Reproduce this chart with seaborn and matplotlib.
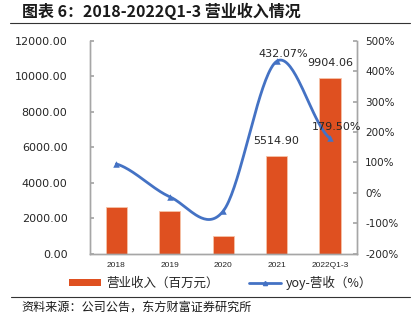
import numpy as np
import pandas as pd
import matplotlib
matplotlib.use("Agg")
import matplotlib.pyplot as plt
import seaborn as sns
from matplotlib.lines import Line2D
from matplotlib.patches import Patch

# ---- data ----
categories = ["2018", "2019", "2020", "2021", "2022Q1-3"]
revenue = [2630, 2405, 1015, 5514.90, 9904.06]          # 营业收入（百万元）
yoy = [95, -13, -60, 432.07, 179.50]                      # yoy-营收（%）
rev_labels = ["", "", "", "5514.90", "9904.06"]
yoy_labels = ["", "", "", "432.07%", "179.50%"]
left_ticks = [0, 2000, 4000, 6000, 8000, 10000, 12000]
right_ticks = [-200, -100, 0, 100, 200, 300, 400, 500]

sns.set_theme(style="white")
plt.rcParams['font.family'] = ['DejaVu Sans', 'Noto Sans CJK SC']
CJK = ['Noto Sans CJK SC', 'DejaVu Sans']

bar_color = "#DF5020"
line_color = "#4472C4"
spine_color = "#A6A6A6"
text_color = "#262626"

fig = plt.figure(figsize=(4.16, 3.23), dpi=100)
ax = fig.add_axes([0.2156, 0.2146, 0.8575 - 0.2156, 0.874 - 0.2146])

df = pd.DataFrame({"cat": categories, "rev": revenue})
sns.barplot(data=df, x="cat", y="rev", ax=ax, color=bar_color, width=0.4,
            saturation=1, edgecolor="#F6C3A8", linewidth=0.6)
ax.set_xlim(-0.5, len(categories) - 0.5)
ax.set_ylim(0, 12000)
ax.set_yticks(left_ticks)
ax.set_yticklabels([f"{v:.2f}" for v in left_ticks], fontsize=8, color=text_color)
ax.set_xlabel("")
ax.set_ylabel("")
ax.tick_params(axis="x", length=0, labelsize=6, pad=6, colors=text_color)
ax.set_xticks(np.arange(len(categories) - 1) + 0.5, minor=True)
ax.tick_params(axis="x", which="minor", length=3, direction="in", color=spine_color)
ax.tick_params(axis="y", length=3, direction="in", color=spine_color, pad=16)
for lbl in ax.get_xticklabels():
    lbl.set_fontfamily(['Liberation Sans'])

for i, (v, t) in enumerate(zip(revenue, rev_labels)):
    if t:
        ax.annotate(t, (i, v), xytext=(0, 15), textcoords="offset pixels",
                    ha="center", va="center", fontsize=8, color=text_color)

ax2 = ax.twinx()
ax2.set_ylim(-200, 500)
ax2.set_yticks(right_ticks)
ax2.set_yticklabels([f"{v}%" for v in right_ticks], fontsize=7.5, color=text_color)
ax2.tick_params(axis="y", length=3, direction="in", color=spine_color, pad=6)

# Smooth curve (Catmull-Rom through the data points, Excel style)
xs = np.arange(len(yoy), dtype=float)
ys = np.array(yoy, dtype=float)
px = np.concatenate([[2 * xs[0] - xs[1]], xs, [2 * xs[-1] - xs[-2]]])
py = np.concatenate([[ys[0]], ys, [ys[-1]]])
cx, cy = [], []
t = np.linspace(0, 1, 40)
for k in range(1, len(px) - 2):
    p0 = np.array([px[k], py[k]])
    p3 = np.array([px[k + 1], py[k + 1]])
    c1 = p0 + (np.array([px[k + 1], py[k + 1]]) - np.array([px[k - 1], py[k - 1]])) / 6
    c2 = p3 - (np.array([px[k + 2], py[k + 2]]) - np.array([px[k], py[k]])) / 6
    b = ((1 - t) ** 3)[:, None] * p0 + (3 * (1 - t) ** 2 * t)[:, None] * c1 + \
        (3 * (1 - t) * t ** 2)[:, None] * c2 + (t ** 3)[:, None] * p3
    cx.extend(b[:, 0]); cy.extend(b[:, 1])
ax2.plot(cx, cy, color=line_color, lw=2, solid_capstyle="round")
sns.scatterplot(x=xs, y=ys, ax=ax2, marker="^", s=22, color=line_color,
                edgecolor=line_color, linewidth=0, zorder=5, legend=False)

for i, (v, tl) in enumerate(zip(yoy, yoy_labels)):
    if tl:
        ax2.annotate(tl, (i, v), xytext=(7, 7 if i == 3 else 11), textcoords="offset pixels",
                     ha="center", va="center", fontsize=8, color=text_color)

for a in (ax, ax2):
    a.spines["top"].set_visible(False)
    for s in ("left", "right", "bottom"):
        a.spines[s].set_color(spine_color)
        a.spines[s].set_linewidth(1)
    a.grid(False)

# Title and decorations
fig.text(22 / 416, 1 - 11 / 323, "图表 6：2018-2022Q1-3 营业收入情况", fontsize=11.5,
         fontweight="bold", family=CJK, ha="left", va="center", color="#1a1a1a")
fig.add_artist(Line2D([10 / 416, 410 / 416], [1 - 22.5 / 323] * 2, color="#333333", lw=0.8))
fig.add_artist(Line2D([11 / 416, 410 / 416], [1 - 297 / 323] * 2, color="#333333", lw=0.8))
fig.text(21 / 416, 1 - 307 / 323, "资料来源：公司公告，东方财富证券研究所", fontsize=8.7,
         family=CJK, ha="left", va="center", color="#1a1a1a")

handles = [Patch(facecolor=bar_color, edgecolor="none"),
           Line2D([], [], color=line_color, lw=2, marker="^", markersize=3)]
leg = fig.legend(handles, ["营业收入（百万元）", "yoy-营收（%）"], loc="center",
                 bbox_to_anchor=(0.53, 1 - 283 / 323), ncol=2, frameon=False,
                 prop={"family": CJK, "size": 9}, handlelength=2.6, handleheight=0.45,
                 columnspacing=2.4, handletextpad=0.4)
for txt in leg.get_texts():
    txt.set_color(text_color)

fig.savefig("out.png", dpi=100)
